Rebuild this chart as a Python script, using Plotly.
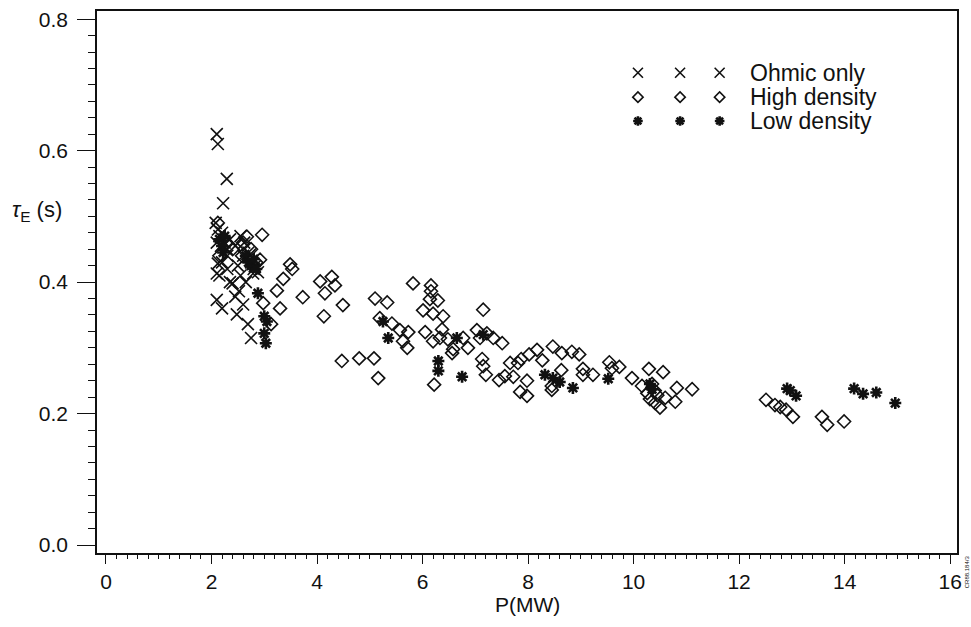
import plotly.graph_objects as go

# ---------------- data ----------------
ohmic_x = [2.10, 2.12, 2.29, 2.22, 2.08, 2.12, 2.15, 2.10, 2.20, 2.18, 2.25, 2.30, 2.35, 2.45,
           2.55, 2.62, 2.70, 2.75, 2.80, 2.88, 2.60, 2.50, 2.20, 2.15, 2.30, 2.40, 2.52, 2.10,
           2.20, 2.45, 2.48, 2.60, 2.69, 2.75, 2.35, 2.65, 2.55, 2.30, 2.12, 2.10, 2.73, 2.82, 2.79]
ohmic_y = [0.625, 0.610, 0.557, 0.520, 0.490, 0.480, 0.470, 0.460, 0.475, 0.455, 0.460, 0.450, 0.465, 0.455,
           0.470, 0.460, 0.445, 0.430, 0.420, 0.415, 0.440, 0.425, 0.430, 0.410, 0.420, 0.398, 0.386, 0.373,
           0.360, 0.378, 0.351, 0.366, 0.336, 0.315, 0.400, 0.400, 0.410, 0.440, 0.428, 0.413, 0.442, 0.424, 0.413]

high_x = [2.12, 2.67, 2.60, 2.75, 2.58, 2.85, 2.92, 2.96, 2.15, 2.40,
          3.36, 3.49, 3.53, 3.24, 3.73, 3.30, 2.98, 3.13,
          4.06, 4.28, 4.34, 4.15, 4.49, 4.13, 5.10, 5.33, 5.19, 5.42, 5.82,
          6.16, 6.16, 6.14, 6.29, 6.01, 6.20, 6.39, 7.15,
          5.57, 5.73, 5.63, 5.71, 6.05, 6.20, 6.37, 6.33, 6.48, 6.77, 6.86, 6.58, 6.56,
          7.03, 7.09, 7.22, 7.34, 7.51, 7.13, 7.15, 7.20,
          4.47, 4.80, 5.08, 5.16, 6.22,
          7.45, 7.56, 7.72, 7.66, 7.81, 7.87, 8.02, 8.17, 8.27, 7.98, 7.85, 7.98,
          8.47, 8.64, 8.83, 8.97, 8.63, 9.04, 9.23, 9.04, 8.45, 8.45,
          9.54, 9.59, 9.73, 9.97, 10.29, 10.56, 10.16, 10.26, 10.31, 10.41, 10.50, 10.60,
          10.82, 10.79, 11.11, 10.35, 10.40, 10.45,
          12.51, 12.68, 12.78, 12.89, 13.02, 13.57, 13.67, 13.99]
high_y = [0.490, 0.469, 0.460, 0.450, 0.440, 0.430, 0.434, 0.472, 0.440, 0.450,
          0.405, 0.427, 0.420, 0.387, 0.377, 0.360, 0.368, 0.336,
          0.401, 0.408, 0.395, 0.383, 0.365, 0.348, 0.375, 0.369, 0.345, 0.337, 0.398,
          0.395, 0.386, 0.374, 0.372, 0.357, 0.352, 0.348, 0.358,
          0.327, 0.324, 0.310, 0.300, 0.324, 0.310, 0.328, 0.315, 0.313, 0.315, 0.300, 0.298, 0.292,
          0.327, 0.315, 0.322, 0.315, 0.307, 0.283, 0.272, 0.259,
          0.280, 0.284, 0.284, 0.254, 0.244,
          0.251, 0.257, 0.256, 0.277, 0.277, 0.283, 0.290, 0.297, 0.281, 0.250, 0.233, 0.227,
          0.302, 0.292, 0.294, 0.290, 0.266, 0.268, 0.259, 0.259, 0.242, 0.236,
          0.278, 0.269, 0.271, 0.254, 0.268, 0.263, 0.242, 0.231, 0.222, 0.216, 0.209, 0.224,
          0.239, 0.218, 0.237, 0.245, 0.235, 0.228,
          0.221, 0.213, 0.210, 0.206, 0.195, 0.195, 0.183, 0.188]

low_x = [2.15, 2.20, 2.25, 2.22, 2.65, 2.70, 2.75, 2.80, 2.85, 2.88, 3.00, 3.05, 3.00, 3.03,
         5.25, 5.35, 6.30, 6.30, 6.65, 6.75, 7.15, 8.32, 8.47, 8.60, 8.85, 9.52, 10.31, 10.35,
         12.91, 12.97, 13.08, 14.18, 14.35, 14.60, 14.96]
low_y = [0.465, 0.455, 0.470, 0.445, 0.440, 0.430, 0.425, 0.435, 0.420, 0.383, 0.348, 0.340, 0.322, 0.307,
         0.340, 0.315, 0.280, 0.265, 0.315, 0.256, 0.320, 0.259, 0.254, 0.248, 0.239, 0.253, 0.245, 0.237,
         0.238, 0.235, 0.227, 0.238, 0.230, 0.232, 0.216]

legend_labels = ["Ohmic only", "High density", "Low density"]
legend_marker_x = [0.629, 0.678, 0.724]
legend_row_y = [0.886, 0.841, 0.797]

x_range = [-0.17, 16.13]
y_range = [-0.0121, 0.8124]
x_ticks = [0, 2, 4, 6, 8, 10, 12, 14, 16]
y_ticks = [0.0, 0.2, 0.4, 0.6, 0.8]

FONT = "Liberation Sans, Arial, sans-serif"
BLACK = "#111111"

styles = [
    dict(symbol="x-thin-open", size=12, line=dict(width=1.6, color=BLACK), color=BLACK),
    dict(symbol="diamond-open", size=10, line=dict(width=1.6, color=BLACK), color=BLACK),
    dict(symbol="asterisk-open", size=10, line=dict(width=2.6, color=BLACK), color=BLACK),
]
series = [(ohmic_x, ohmic_y), (high_x, high_y), (low_x, low_y)]

fig = go.Figure()
for (sx, sy), st, name in zip(series, styles, legend_labels):
    fig.add_trace(go.Scatter(x=sx, y=sy, mode="markers", marker=st, name=name,
                             showlegend=False, hoverinfo="skip"))

# custom legend: three markers per row, drawn on an overlay axis in [0,1]
for st, ry, name in zip(styles, legend_row_y, legend_labels):
    fig.add_trace(go.Scatter(x=legend_marker_x, y=[ry] * len(legend_marker_x), mode="markers",
                             marker=dict(st, size=st["size"] - 2), xaxis="x2", yaxis="y2",
                             showlegend=False, hoverinfo="skip"))
    fig.add_annotation(x=0.757, y=ry, xref="paper", yref="paper", text=name, showarrow=False,
                       xanchor="left", yanchor="middle", font=dict(family=FONT, size=23, color=BLACK))

axis_common = dict(showgrid=False, zeroline=False, showline=True, linecolor=BLACK, linewidth=1.5,
                   mirror=True, ticks="outside", tickcolor=BLACK, tickwidth=1.3,
                   tickfont=dict(family=FONT, size=21, color=BLACK))

fig.update_layout(
    width=971, height=627,
    margin=dict(l=97, r=14, t=8, b=74),
    paper_bgcolor="white", plot_bgcolor="white",
    showlegend=False,
    xaxis=dict(axis_common, range=x_range, tickmode="array", tickvals=x_ticks,
               ticklen=9, minor=dict(dtick=0.2, tick0=0, ticks="outside", ticklen=4,
                                     tickcolor=BLACK, tickwidth=1)),
    yaxis=dict(axis_common, range=y_range, tickmode="array", tickvals=y_ticks,
               ticktext=[f"{v:.1f}" for v in y_ticks], ticklabelstandoff=5,
               ticklen=18, minor=dict(dtick=0.025, tick0=0, ticks="outside", ticklen=7,
                                      tickcolor=BLACK, tickwidth=1.2)),
    xaxis2=dict(overlaying="x", range=[0, 1], visible=False, showgrid=False, zeroline=False),
    yaxis2=dict(overlaying="y", range=[0, 1], visible=False, showgrid=False, zeroline=False),
)

fig.add_annotation(x=-0.07, y=0.631, xref="paper", yref="paper", xanchor="center", yanchor="middle",
                   text="<i>τ</i><sub>E</sub> (s)", showarrow=False,
                   font=dict(family=FONT, size=22, color=BLACK))
fig.add_annotation(x=0.5, y=-0.095, xref="paper", yref="paper", text="P(MW)", showarrow=False,
                   xanchor="center", yanchor="middle", font=dict(family=FONT, size=21, color=BLACK))
fig.add_annotation(x=1.012, y=-0.035, xref="paper", yref="paper", text="CR88.184/3",
                   xanchor="center", yanchor="middle",
                   showarrow=False, textangle=-90, font=dict(family=FONT, size=6, color=BLACK))

fig.write_html("out.html")
